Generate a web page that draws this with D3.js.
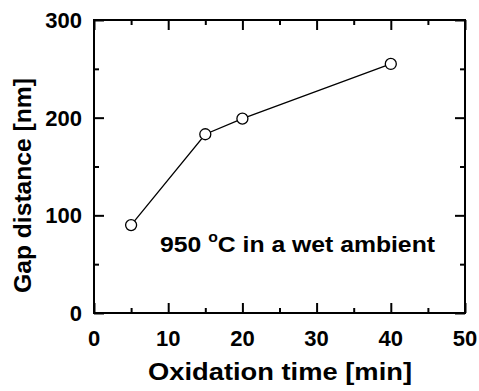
<!DOCTYPE html>
<html>
<head>
<meta charset="utf-8">
<script src="https://cdn.jsdelivr.net/npm/d3@7/dist/d3.min.js"></script>
<style>
  html, body { margin: 0; padding: 0; background: #fff; }
  svg { display: block; }
  text { font-family: "Liberation Sans", Arial, Helvetica, sans-serif; font-weight: bold; fill: #000; }
</style>
</head>
<body>
<svg id="chart" width="479" height="391"></svg>
<script>
const times = [5, 15, 20, 40];
const gaps = [90, 183, 199, 255];
const xTicks = [0, 10, 20, 30, 40, 50];
const xMinor = [5, 15, 25, 35, 45];
const yTicks = [0, 100, 200, 300];
const yMinor = [50, 150, 250];
const xTitle = "Oxidation time [min]";
const yTitle = "Gap distance [nm]";
const note = ["950 ", "o", "C in a wet ambient"];

const W = 479, H = 391;
const m = { left: 94, top: 20, right: 14, bottom: 78 };
const svg = d3.select("#chart");

const x = d3.scaleLinear().domain([0, 50]).range([m.left, W - m.right]);
const y = d3.scaleLinear().domain([0, 300]).range([H - m.bottom, m.top]);

const major = 10, minor = 5;

function styleAxis(g) {
  g.select(".domain").remove();
  g.selectAll(".tick line").attr("stroke", "#000").attr("stroke-width", 2);
}

// bottom major + minor
svg.append("g").attr("transform", `translate(0,${y(0)})`)
  .call(d3.axisBottom(x).tickValues(xTicks).tickSizeInner(-major).tickSizeOuter(0).tickFormat(""))
  .call(styleAxis);
svg.append("g").attr("transform", `translate(0,${y(0)})`)
  .call(d3.axisBottom(x).tickValues(xMinor).tickSizeInner(-minor).tickSizeOuter(0).tickFormat(""))
  .call(styleAxis);
// top
svg.append("g").attr("transform", `translate(0,${y(300)})`)
  .call(d3.axisTop(x).tickValues(xTicks).tickSizeInner(-major).tickSizeOuter(0).tickFormat(""))
  .call(styleAxis);
svg.append("g").attr("transform", `translate(0,${y(300)})`)
  .call(d3.axisTop(x).tickValues(xMinor).tickSizeInner(-minor).tickSizeOuter(0).tickFormat(""))
  .call(styleAxis);
// left
svg.append("g").attr("transform", `translate(${x(0)},0)`)
  .call(d3.axisLeft(y).tickValues(yTicks).tickSizeInner(-major).tickSizeOuter(0).tickFormat(""))
  .call(styleAxis);
svg.append("g").attr("transform", `translate(${x(0)},0)`)
  .call(d3.axisLeft(y).tickValues(yMinor).tickSizeInner(-minor).tickSizeOuter(0).tickFormat(""))
  .call(styleAxis);
// right
svg.append("g").attr("transform", `translate(${x(50)},0)`)
  .call(d3.axisRight(y).tickValues(yTicks).tickSizeInner(-major).tickSizeOuter(0).tickFormat(""))
  .call(styleAxis);
svg.append("g").attr("transform", `translate(${x(50)},0)`)
  .call(d3.axisRight(y).tickValues(yMinor).tickSizeInner(-minor).tickSizeOuter(0).tickFormat(""))
  .call(styleAxis);

// frame
svg.append("rect")
  .attr("x", x(0)).attr("y", y(300))
  .attr("width", x(50) - x(0)).attr("height", y(0) - y(300))
  .attr("fill", "none").attr("stroke", "#000").attr("stroke-width", 2);

// tick labels
svg.append("g").selectAll("text").data(xTicks).join("text")
  .attr("x", d => x(d)).attr("y", 346)
  .attr("text-anchor", "middle").attr("font-size", 22)
  .text(d => d);
svg.append("g").selectAll("text").data(yTicks).join("text")
  .attr("x", 82).attr("y", d => y(d) + 8)
  .attr("text-anchor", "end").attr("font-size", 22)
  .text(d => d);

// axis titles
svg.append("text")
  .attr("x", 280).attr("y", 380)
  .attr("text-anchor", "middle").attr("font-size", 24)
  .attr("textLength", 264).attr("lengthAdjust", "spacingAndGlyphs")
  .text(xTitle);
svg.append("text")
  .attr("transform", `translate(31,${(78 + 293) / 2}) rotate(-90)`)
  .attr("text-anchor", "middle").attr("font-size", 24)
  .attr("textLength", 215).attr("lengthAdjust", "spacingAndGlyphs")
  .text(yTitle);

// line + markers
const line = d3.line().x((d, i) => x(times[i])).y(d => y(d));
svg.append("path").datum(gaps)
  .attr("d", line).attr("fill", "none").attr("stroke", "#000").attr("stroke-width", 1.3);
svg.append("g").selectAll("circle").data(gaps).join("circle")
  .attr("cx", (d, i) => x(times[i])).attr("cy", d => y(d)).attr("r", 5.5)
  .attr("fill", "#fff").attr("stroke", "#000").attr("stroke-width", 1.3);

// annotation
const t = svg.append("text").attr("x", 160).attr("y", 252).attr("font-size", 22)
  .attr("textLength", 275).attr("lengthAdjust", "spacingAndGlyphs");
t.append("tspan").text(note[0]);
t.append("tspan").attr("font-size", 14).attr("dy", -10).text(note[1]);
t.append("tspan").attr("dy", 10).text(note[2]);
</script>
</body>
</html>
